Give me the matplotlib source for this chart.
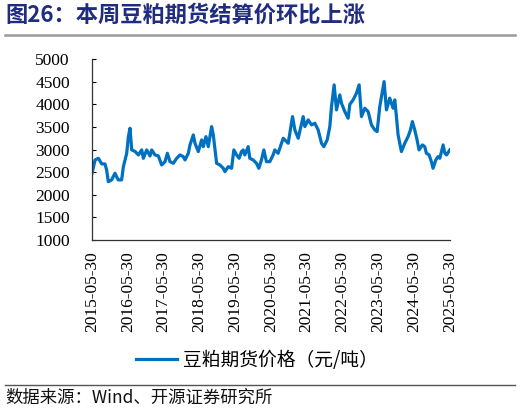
import pandas as pd
import matplotlib
matplotlib.use("Agg")
import matplotlib.pyplot as plt
import matplotlib.dates as mdates
from matplotlib.lines import Line2D

# soybean meal futures settlement price (yuan/ton)
dates = [
    "2015-05-30", "2015-06-30", "2015-08-03", "2015-09-06", "2015-10-09", "2015-10-26",
    "2015-11-12", "2015-12-16", "2016-01-19", "2016-02-05", "2016-02-22", "2016-03-27",
    "2016-04-14", "2016-05-18", "2016-06-04", "2016-06-21", "2016-07-08", "2016-08-11",
    "2016-09-14", "2016-10-18", "2016-11-04", "2016-12-08", "2017-01-11", "2017-01-28",
    "2017-03-03", "2017-04-06", "2017-05-10", "2017-06-13", "2017-07-07", "2017-08-03",
    "2017-09-06", "2017-10-10", "2017-11-13", "2017-12-17", "2018-01-03", "2018-02-06",
    "2018-02-23", "2018-03-29", "2018-04-15", "2018-05-19", "2018-06-22", "2018-07-09",
    "2018-08-05", "2018-08-29", "2018-10-02", "2018-10-19", "2018-11-22", "2018-12-26",
    "2019-01-29", "2019-02-15", "2019-03-21", "2019-04-24", "2019-05-17", "2019-06-14",
    "2019-07-10", "2019-08-03", "2019-08-20", "2019-09-06", "2019-10-10", "2019-10-27",
    "2019-11-30", "2020-01-03", "2020-01-27", "2020-02-23", "2020-03-18", "2020-04-14",
    "2020-05-18", "2020-06-21", "2020-07-08", "2020-08-11", "2020-10-02", "2020-11-22",
    "2021-01-05", "2021-01-29", "2021-03-04", "2021-04-24", "2021-05-11", "2021-06-14",
    "2021-07-18", "2021-08-21", "2021-09-24", "2021-10-28", "2021-11-21", "2021-12-25",
    "2022-01-21", "2022-02-07", "2022-03-06", "2022-03-30", "2022-05-03", "2022-05-20",
    "2022-06-23", "2022-07-27", "2022-08-13", "2022-09-16", "2022-10-20", "2022-11-16",
    "2022-12-10", "2023-01-13", "2023-02-16", "2023-03-22", "2023-04-25", "2023-05-19",
    "2023-06-15", "2023-07-29", "2023-08-22", "2023-09-25", "2023-10-29", "2023-11-15",
    "2023-12-02", "2023-12-19", "2024-01-22", "2024-02-25", "2024-03-30", "2024-04-23",
    "2024-05-13", "2024-06-06", "2024-06-30", "2024-07-20", "2024-08-23", "2024-09-16",
    "2024-10-03", "2024-10-31", "2024-11-23", "2024-12-10", "2025-01-07", "2025-01-30",
    "2025-02-17", "2025-03-23", "2025-04-09", "2025-04-26", "2025-05-30",
]
prices = [
    2477, 2771, 2808, 2683, 2683, 2550,
    2291, 2330, 2477, 2400, 2330, 2330,
    2623, 2919, 3287, 3473, 2993, 2960,
    2882, 2993, 2808, 2993, 2860, 2993,
    2882, 2860, 2660, 2733, 2919, 2733,
    2697, 2808, 2882, 2845, 2771, 2919,
    3103, 3325, 3140, 2956, 3214, 3066,
    3287, 3066, 3509, 3325, 2697, 2660,
    2587, 2512, 2623, 2587, 2993, 2882,
    2808, 2956, 2993, 2882, 3066, 2808,
    2771, 2697, 2587, 2771, 2993, 2733,
    2733, 2882, 2993, 2919, 3251, 3140,
    3730, 3435, 3251, 3730, 3509, 3657,
    3546, 3583, 3435, 3140, 3066, 3214,
    3509, 3951, 4432, 3878, 4210, 4026,
    3841, 3694, 4000, 4100, 4248, 4432,
    3730, 3915, 3841, 3546, 3435, 3398,
    3951, 4505, 3878, 4137, 3915, 4100,
    3730, 3325, 2956, 3140, 3287, 3435,
    3620, 3435, 3214, 2993, 3103, 3066,
    2919, 2882, 2733, 2587, 2771, 2845,
    2808, 3103, 2919, 2882, 2993,
]
tick_dates = [f"{y}-05-30" for y in range(2015, 2026)]
y_ticks = list(range(1000, 5001, 500))

title = "图26：本周豆粕期货结算价环比上涨"
legend_label = "豆粕期货价格（元/吨）"
source = "数据来源：Wind、开源证券研究所"

cjk = ["Noto Sans CJK SC", "DejaVu Sans"]
serif = "Liberation Serif"
blue = "#0070C0"

x = pd.to_datetime(dates)
xt = pd.to_datetime(tick_dates)

fig = plt.figure(figsize=(5.2, 4.11), dpi=100)
ax = fig.add_axes([0.177, 0.416, 0.688, 0.44])
ax.plot(x, prices, color=blue, linewidth=2.3, solid_joinstyle="round")

ax.set_ylim(1000, 5000)
ax.set_yticks(y_ticks)
ax.set_xlim(xt[0], xt[-1])
ax.set_xticks(xt)
ax.xaxis.set_major_formatter(mdates.DateFormatter("%Y-%m-%d"))
for lab in ax.get_xticklabels():
    lab.set_rotation(90)
for lab in ax.get_xticklabels() + ax.get_yticklabels():
    lab.set_fontfamily(serif)
    lab.set_fontsize(12.5)
ax.tick_params(axis="y", direction="in", length=3, width=0.8, pad=16)
ax.tick_params(axis="x", length=0, pad=8)
for side in ["top", "right"]:
    ax.spines[side].set_visible(False)
for side in ["left", "bottom"]:
    ax.spines[side].set_color("#333333")
    ax.spines[side].set_linewidth(0.9)

# title and rules
fig.text(0.01, 0.962, title, family=cjk, fontsize=16, fontweight="bold",
         color="#1F2C80", va="center", ha="left")
fig.add_artist(Line2D([0.01, 0.99], [0.914, 0.914], color="#9a9a9a", linewidth=1.8))
fig.add_artist(Line2D([0.01, 0.99], [0.063, 0.063], color="#555555", linewidth=1.0))
fig.text(0.01, 0.032, source, family=cjk, fontsize=12.5, color="#111111",
         va="center", ha="left")

# legend
leg = ax.legend([Line2D([], [], color=blue, linewidth=2.3)], [legend_label],
                loc="center", bbox_to_anchor=(0.46, -0.665), frameon=False,
                prop={"family": cjk, "size": 13.5}, handlelength=2.2, handletextpad=0.3)

fig.savefig("out.png", dpi=100)
